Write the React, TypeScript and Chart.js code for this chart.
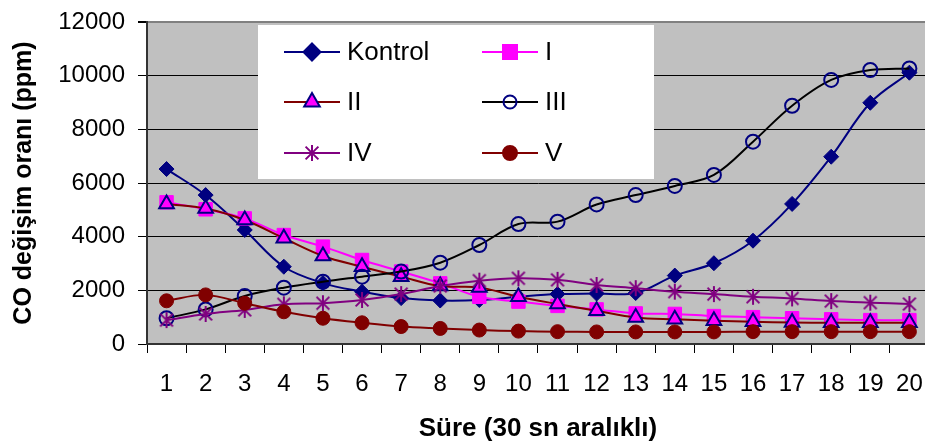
import React, { useEffect, useRef } from 'react';
import { Chart, registerables } from 'chart.js';

Chart.register(...registerables);

const categories = ['1', '2', '3', '4', '5', '6', '7', '8', '9', '10', '11', '12', '13', '14', '15', '16', '17', '18', '19', '20'];

const kontrol = [6520, 5550, 4250, 2880, 2270, 1950, 1710, 1620, 1640, 1760, 1860, 1880, 1900, 2550, 3010, 3850, 5220, 6980, 8990, 10110];
const seriesI = [5280, 5020, 4680, 4060, 3630, 3130, 2700, 2260, 1760, 1580, 1420, 1290, 1140, 1120, 1040, 1000, 960, 920, 890, 890];
const seriesII = [5220, 5050, 4620, 3940, 3280, 2880, 2510, 2160, 2110, 1760, 1490, 1240, 990, 920, 870, 830, 800, 790, 790, 790];
const seriesIII = [960, 1290, 1790, 2100, 2320, 2510, 2700, 3030, 3690, 4470, 4560, 5200, 5550, 5890, 6300, 7540, 8880, 9840, 10210, 10270];
const seriesIV = [890, 1120, 1270, 1480, 1520, 1640, 1860, 2160, 2360, 2450, 2390, 2200, 2080, 1950, 1860, 1760, 1700, 1600, 1540, 1490];
const seriesV = [1610, 1830, 1520, 1200, 960, 790, 650, 580, 520, 480, 460, 450, 450, 450, 450, 460, 460, 460, 460, 460];

const seriesNames = ['Kontrol', 'I', 'II', 'III', 'IV', 'V'];
const yMin = 0;
const yMax = 12000;
const yStep = 2000;
const xTitle = 'Süre (30 sn aralıklı)';
const yTitle = 'CO değişim oranı (ppm)';

const FONT = '"Liberation Sans", Arial, Helvetica, sans-serif';

function makeAsterisk(r: number, color: string, lw: number): HTMLCanvasElement {
  const size = Math.ceil(r * 2 + lw + 2);
  const c = document.createElement('canvas');
  c.width = size;
  c.height = size;
  const g = c.getContext('2d')!;
  const m = size / 2;
  g.strokeStyle = color;
  g.lineWidth = lw;
  g.beginPath();
  g.moveTo(m, m - r);
  g.lineTo(m, m + r);
  const d = r * 0.8;
  g.moveTo(m - d, m - d);
  g.lineTo(m + d, m + d);
  g.moveTo(m - d, m + d);
  g.lineTo(m + d, m - d);
  g.stroke();
  return c;
}

function drawMarker(ctx: CanvasRenderingContext2D, style: string, x: number, y: number, r: number, fill: string, stroke: string, bw: number) {
  ctx.save();
  ctx.lineWidth = bw;
  ctx.fillStyle = fill;
  ctx.strokeStyle = stroke;
  ctx.beginPath();
  if (style === 'diamond') {
    ctx.moveTo(x, y - r);
    ctx.lineTo(x + r, y);
    ctx.lineTo(x, y + r);
    ctx.lineTo(x - r, y);
    ctx.closePath();
    ctx.fill();
    ctx.stroke();
  } else if (style === 'square') {
    ctx.rect(x - r, y - r, 2 * r, 2 * r);
    ctx.fill();
    ctx.stroke();
  } else if (style === 'triangle') {
    const h = r * Math.sqrt(3) / 2;
    ctx.moveTo(x, y - r);
    ctx.lineTo(x + h, y + r / 2);
    ctx.lineTo(x - h, y + r / 2);
    ctx.closePath();
    ctx.fill();
    ctx.stroke();
  } else if (style === 'circle' || style === 'open') {
    ctx.arc(x, y, r, 0, Math.PI * 2);
    if (style === 'circle') ctx.fill();
    ctx.stroke();
  } else if (style === 'asterisk') {
    const d = r * 0.8;
    ctx.moveTo(x, y - r);
    ctx.lineTo(x, y + r);
    ctx.moveTo(x - d, y - d);
    ctx.lineTo(x + d, y + d);
    ctx.moveTo(x - d, y + d);
    ctx.lineTo(x + d, y - d);
    ctx.stroke();
  }
  ctx.restore();
}

export default function App() {
  const ref = useRef<HTMLCanvasElement>(null);

  useEffect(() => {
    const canvas = ref.current;
    if (!canvas) return;

    const legendItems = [
      { name: seriesNames[0], line: '#000080', marker: 'diamond', r: 8.5, fill: '#000080', stroke: '#000080', col: 0, row: 0 },
      { name: seriesNames[1], line: '#FF00FF', marker: 'square', r: 7, fill: '#FF00FF', stroke: '#FF00FF', col: 1, row: 0 },
      { name: seriesNames[2], line: '#800000', marker: 'triangle', r: 9, fill: '#FF00FF', stroke: '#000080', col: 0, row: 1 },
      { name: seriesNames[3], line: '#000000', marker: 'open', r: 6.5, fill: 'transparent', stroke: '#000080', col: 1, row: 1 },
      { name: seriesNames[4], line: '#800080', marker: 'asterisk', r: 8, fill: '#800080', stroke: '#800080', col: 0, row: 2 },
      { name: seriesNames[5], line: '#800000', marker: 'circle', r: 7, fill: '#800000', stroke: '#800000', col: 1, row: 2 },
    ];

    const bgPlugin = {
      id: 'plotBg',
      beforeDraw(chart: any) {
        const { ctx, chartArea: a } = chart;
        ctx.save();
        ctx.fillStyle = '#C0C0C0';
        ctx.fillRect(a.left, a.top, a.right - a.left, a.bottom - a.top);
        ctx.restore();
      },
    };

    const legendPlugin = {
      id: 'boxLegend',
      afterDatasetsDraw(chart: any) {
        const ctx: CanvasRenderingContext2D = chart.ctx;
        ctx.save();
        ctx.fillStyle = '#FFFFFF';
        ctx.fillRect(258, 25, 396, 154);
        const colX = [284, 482];
        const rowY = [52, 102, 153];
        ctx.font = `26px ${FONT}`;
        ctx.textBaseline = 'middle';
        ctx.textAlign = 'left';
        for (const it of legendItems) {
          const x0 = colX[it.col];
          const y = rowY[it.row];
          ctx.strokeStyle = it.line;
          ctx.lineWidth = 2;
          ctx.beginPath();
          ctx.moveTo(x0, y);
          ctx.lineTo(x0 + 56, y);
          ctx.stroke();
          drawMarker(ctx, it.marker, x0 + 28, y, it.r, it.fill, it.stroke, 2);
          ctx.fillStyle = '#000000';
          ctx.fillText(it.name, x0 + 63, y + 1);
        }
        ctx.restore();
      },
    };

    const asterisk = makeAsterisk(8, '#800080', 2);

    const chart = new Chart(canvas, {
      type: 'line',
      data: {
        labels: categories,
        datasets: [
          {
            label: seriesNames[0], data: kontrol, borderColor: '#000080', backgroundColor: '#000080',
            borderWidth: 2, pointStyle: 'rectRot', pointRadius: 7.5, pointBackgroundColor: '#000080',
            pointBorderColor: '#000080', pointBorderWidth: 1, order: 5,
          },
          {
            label: seriesNames[1], data: seriesI, borderColor: '#FF00FF', backgroundColor: '#FF00FF',
            borderWidth: 2, pointStyle: 'rect', pointRadius: 9.5, pointBackgroundColor: '#FF00FF',
            pointBorderColor: '#FF00FF', pointBorderWidth: 1, order: 4,
          },
          {
            label: seriesNames[2], data: seriesII, borderColor: '#800000', backgroundColor: '#FF00FF',
            borderWidth: 2, pointStyle: 'triangle', pointRadius: 8.5, pointBackgroundColor: '#FF00FF',
            pointBorderColor: '#000080', pointBorderWidth: 2, order: 3,
          },
          {
            label: seriesNames[3], data: seriesIII, borderColor: '#000000', backgroundColor: 'transparent',
            borderWidth: 2, pointStyle: 'circle', pointRadius: 7, pointBackgroundColor: 'rgba(0,0,0,0)',
            pointBorderColor: '#000080', pointBorderWidth: 2, order: 2,
          },
          {
            label: seriesNames[4], data: seriesIV, borderColor: '#800080', backgroundColor: '#800080',
            borderWidth: 2, pointStyle: asterisk as any, pointRadius: 8, pointBackgroundColor: '#800080',
            pointBorderColor: '#800080', pointBorderWidth: 2, order: 1,
          },
          {
            label: seriesNames[5], data: seriesV, borderColor: '#800000', backgroundColor: '#800000',
            borderWidth: 2, pointStyle: 'circle', pointRadius: 7, pointBackgroundColor: '#800000',
            pointBorderColor: '#800000', pointBorderWidth: 1, order: 0,
          },
        ],
      },
      options: {
        responsive: false,
        animation: false,
        events: [],
        devicePixelRatio: 1,
        layout: { padding: { top: 22, right: 9, left: 0, bottom: 0 } },
        elements: { line: { tension: 0.35 } },
        plugins: {
          legend: { display: false },
          tooltip: { enabled: false },
          title: { display: false },
        },
        scales: {
          x: {
            type: 'category',
            offset: true,
            afterFit: (axis: any) => { axis.height = 100; },
            grid: {
              display: true,
              offset: true,
              drawOnChartArea: false,
              drawTicks: true,
              tickLength: 9,
              color: '#000000',
              tickColor: '#000000',
              lineWidth: 1,
            },
            border: { display: true, color: '#333333', width: 2 },
            ticks: {
              color: '#000000',
              font: { family: FONT, size: 24 },
              padding: 17,
              maxRotation: 0,
              autoSkip: false,
            },
            title: {
              display: true,
              text: xTitle,
              color: '#000000',
              font: { family: FONT, size: 26, weight: 'bold' },
              padding: { top: 0, bottom: 0 },
            },
          },
          y: {
            min: yMin,
            max: yMax,
            afterFit: (axis: any) => {
              axis.width = 147;
              axis.paddingTop = 0;
              axis.paddingBottom = 0;
            },
            grid: {
              display: true,
              drawTicks: true,
              tickLength: 9,
              color: (c: any) => (c.tick && c.tick.value === yMax ? '#808080' : '#000000'),
              lineWidth: (c: any) => (c.tick && c.tick.value === yMax ? 2 : 1),
              tickColor: '#000000',
            },
            border: { display: true, color: '#333333', width: 2 },
            ticks: {
              stepSize: yStep,
              color: '#000000',
              font: { family: FONT, size: 24 },
              padding: 13,
              callback: (v: any) => String(v),
            },
            title: {
              display: true,
              text: yTitle,
              color: '#000000',
              font: { family: FONT, size: 25, weight: 'bold' },
              padding: { top: 9, bottom: 0 },
            },
          },
        },
      },
      plugins: [bgPlugin, legendPlugin],
    } as any);

    return () => chart.destroy();
  }, []);

  return (
    <div style={{ position: 'absolute', left: 0, top: 0, width: 925, height: 444, overflow: 'hidden', background: '#FFFFFF' }}>
      <canvas ref={ref} width={940} height={444} style={{ display: 'block', width: 940, height: 444 }} />
    </div>
  );
}
